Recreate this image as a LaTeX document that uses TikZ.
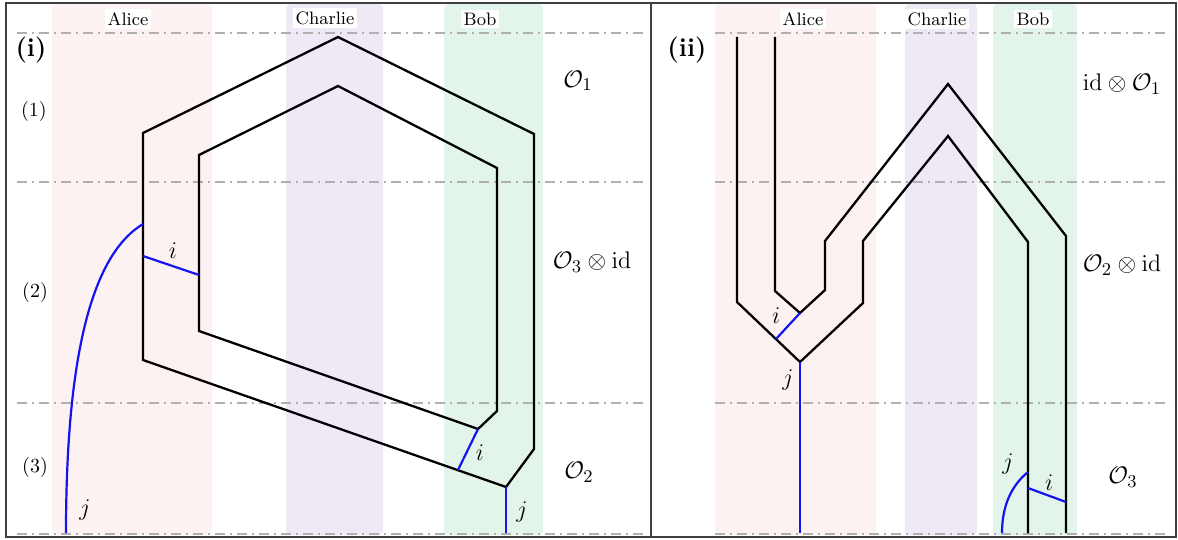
\documentclass[tikz,border=0pt]{standalone}
\usetikzlibrary{calc}
\definecolor{alicebg}{HTML}{FDF2F2}
\definecolor{charliebg}{HTML}{EEE9F5}
\definecolor{bobbg}{HTML}{E3F5EA}
\definecolor{slicegray}{HTML}{B0B0B0}
\definecolor{wireblue}{HTML}{1414F0}
\tikzset{
  band/.style={rounded corners=2pt},
  party/.style={fill=white,inner sep=1.5pt,font=\small},
  slice/.style={slicegray,line width=0.55pt,dash pattern=on 5pt off 2.5pt on 1pt off 2.5pt},
  frame/.style={black!75,line width=0.8pt},
  wire/.style={line width=1.15pt,line join=miter},
  qwire/.style={wireblue,line width=1.1pt},
  idx/.style={font=\large},
  oplabel/.style={font=\fontsize{12.5}{15}\selectfont},
  step label/.style={font=\normalsize}
}
\begin{document}
\begin{tikzpicture}[x=0.5pt,y=-0.5pt]
  \useasboundingbox (0,0) rectangle (1178,540);
  % party bands
  \foreach \xa/\xb/\col in {52/212/alicebg,286/383/charliebg,444/543/bobbg,
                            715/876/alicebg,905/977/charliebg,993/1077/bobbg}
    \fill[band,\col] (\xa,4) rectangle (\xb,535);
  % time slices
  \foreach \y in {33,182,403,534} {
    \draw[slice] (17,\y) -- (645,\y);
    \draw[slice] (715,\y) -- (1170,\y);
  }
  % party names
  \node[party] (aliceI) at (128,19) {Alice};
  \node[party] (charlieI) at (325,18) {Charlie};
  \node[party] (bobI) at (480,19) {Bob};
  \node[party] (aliceII) at (803,19) {Alice};
  \node[party] (charlieII) at (937,19) {Charlie};
  \node[party] (bobII) at (1033,19) {Bob};
  % frame
  \draw[frame] (6,3) rectangle (1176,537);
  \draw[frame] (651,3) -- (651,537);
  \node[font=\fontsize{13}{15}\selectfont\bfseries] (panelI) at (31,50) {(i)};
  \node[font=\fontsize{13}{15}\selectfont\bfseries] (panelII) at (687,50) {(ii)};
  \node[step label] (stepA) at (34,112) {(1)};
  \node[step label] (stepB) at (35,292) {(2)};
  \node[step label] (stepC) at (35,467) {(3)};

  % panel (i): outer and inner loops
  \coordinate (oTop) at (338,37);
  \coordinate (oL) at (143,133);
  \coordinate (oR) at (534,134);
  \coordinate (oBL) at (143,360);
  \coordinate (oBR) at (534,449);
  \coordinate (oB) at (506,487);
  \coordinate (iTop) at (338,86);
  \coordinate (iL) at (199,155);
  \coordinate (iR) at (497,168);
  \coordinate (iBL) at (199,331);
  \coordinate (iBR) at (497,411);
  \coordinate (iB) at (478,429);
  \draw[wire] (oBL) -- (oL) -- (oTop) -- (oR) -- (oBR) -- (oB) -- cycle;
  \draw[wire] (iBL) -- (iL) -- (iTop) -- (iR) -- (iBR) -- (iB) -- cycle;
  \coordinate (aiOut) at (143,256);
  \coordinate (aiIn) at (199,275);
  \coordinate (ajTop) at (143,224);
  \coordinate (ajEnd) at (66,533);
  \coordinate (biOut) at (458,470);
  \coordinate (bjEnd) at (506,533);
  \draw[qwire] (aiOut) -- (aiIn);
  \draw[qwire] (ajEnd) .. controls (66,330) and (100,250) .. (ajTop);
  \draw[qwire] (iB) -- (biOut);
  \draw[qwire] (oB) -- (bjEnd);
  \node[idx] (lblAi) at (173,251) {$i$};
  \node[idx] (lblAj) at (85,510) {$j$};
  \node[idx] (lblBi) at (480,453) {$i$};
  \node[idx] (lblBj) at (522,512) {$j$};
  \node[oplabel] (opOne) at (578,81) {$\mathcal{O}_1$};
  \node[oplabel] (opThree) at (592,262) {$\mathcal{O}_3\otimes\mathrm{id}$};
  \node[oplabel] (opTwo) at (579,472) {$\mathcal{O}_2$};

  % panel (ii): two nested wires
  \coordinate (aTopOut) at (737,37);
  \coordinate (aKneeOut) at (737,302);
  \coordinate (vOut) at (800,362);
  \coordinate (cKneeA) at (863,303);
  \coordinate (cElbA) at (863,241);
  \coordinate (pkIn) at (948,136);
  \coordinate (bElbIn) at (1028,242);
  \coordinate (bEndIn) at (1028,533);
  \coordinate (aTopIn) at (775,37);
  \coordinate (aKneeIn) at (775,291);
  \coordinate (vIn) at (800,313);
  \coordinate (cKneeB) at (825,290);
  \coordinate (cElbB) at (825,241);
  \coordinate (pkOut) at (948,84);
  \coordinate (bElbOut) at (1066,236);
  \coordinate (bEndOut) at (1066,533);
  \draw[wire] (aTopOut) -- (aKneeOut) -- (vOut) -- (cKneeA) -- (cElbA) -- (pkIn)
    -- (bElbIn) -- (bEndIn);
  \draw[wire] (aTopIn) -- (aKneeIn) -- (vIn) -- (cKneeB) -- (cElbB) -- (pkOut)
    -- (bElbOut) -- (bEndOut);
  \coordinate (riOut) at (776,339);
  \coordinate (rjEnd) at (800,533);
  \coordinate (sjTop) at (1028,472);
  \coordinate (sjEnd) at (1002,533);
  \coordinate (siIn) at (1028,488);
  \coordinate (siOut) at (1066,502);
  \draw[qwire] (vIn) -- (riOut);
  \draw[qwire] (vOut) -- (rjEnd);
  \draw[qwire] (siIn) -- (siOut);
  \draw[qwire] (sjEnd) .. controls (1002,505) and (1012,485) .. (sjTop);
  \node[idx] (lblRi) at (776,316) {$i$};
  \node[idx] (lblRj) at (788,380) {$j$};
  \node[idx] (lblSi) at (1049,483) {$i$};
  \node[idx] (lblSj) at (1008,464) {$j$};
  \node[oplabel] (opOneR) at (1122,84) {$\mathrm{id}\otimes\mathcal{O}_1$};
  \node[oplabel] (opTwoR) at (1122,265) {$\mathcal{O}_2\otimes\mathrm{id}$};
  \node[oplabel] (opThreeR) at (1123,477) {$\mathcal{O}_3$};
\end{tikzpicture}
\end{document}
